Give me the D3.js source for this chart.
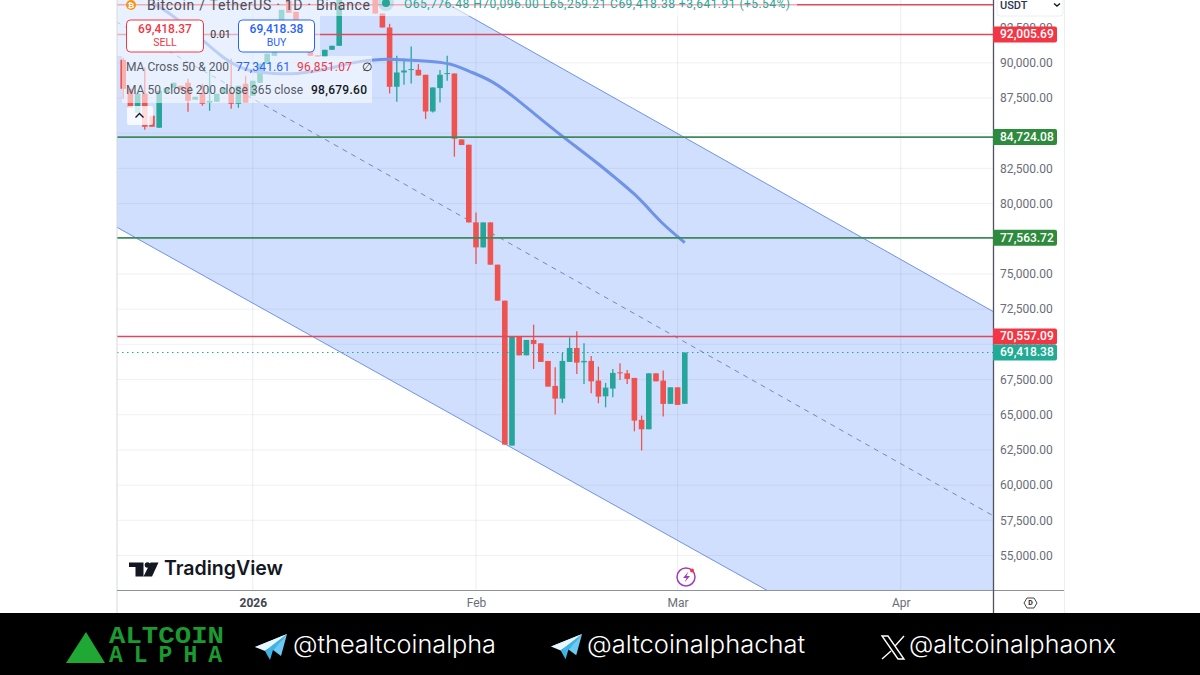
<!DOCTYPE html>
<meta charset="utf-8">
<style>
html, body { margin: 0; padding: 0; background: #fff; }
svg { display: block; }
text { font-family: Roboto, sans-serif; }
.price-axis text, .time-axis text { font-size: 12px; fill: #6a6d78; }
.price-axis path, .price-axis line, .time-axis path, .time-axis line { display: none; }
</style>
<body>
<script src="https://cdn.jsdelivr.net/npm/d3@7/dist/d3.min.js"></script>
<script>

// candles, one per day from 14 Dec 2025 to 2 Mar 2026
var dates = ["2025-12-14","2025-12-15","2025-12-16","2025-12-17","2025-12-18","2025-12-19","2025-12-20","2025-12-21","2025-12-22","2025-12-23",
  "2025-12-24","2025-12-25","2025-12-26","2025-12-27","2025-12-28","2025-12-29","2025-12-30","2025-12-31","2026-01-01","2026-01-02",
  "2026-01-03","2026-01-04","2026-01-05","2026-01-06","2026-01-07","2026-01-08","2026-01-09","2026-01-10","2026-01-11","2026-01-12",
  "2026-01-13","2026-01-14","2026-01-15","2026-01-16","2026-01-17","2026-01-18","2026-01-19","2026-01-20","2026-01-21","2026-01-22",
  "2026-01-23","2026-01-24","2026-01-25","2026-01-26","2026-01-27","2026-01-28","2026-01-29","2026-01-30","2026-01-31","2026-02-01",
  "2026-02-02","2026-02-03","2026-02-04","2026-02-05","2026-02-06","2026-02-07","2026-02-08","2026-02-09","2026-02-10","2026-02-11",
  "2026-02-12","2026-02-13","2026-02-14","2026-02-15","2026-02-16","2026-02-17","2026-02-18","2026-02-19","2026-02-20","2026-02-21",
  "2026-02-22","2026-02-23","2026-02-24","2026-02-25","2026-02-26","2026-02-27","2026-02-28","2026-03-01","2026-03-02"];
var opens = [90214,88155,86451,87800,86238,85386,87871,88226,88368,88581,
  87374,87871,87161,87232,87800,87871,87090,88510,87658,88581,
  89930,90498,91208,94403,93622,92628,90853,90535,90427,90924,
  91208,95113,96533,96000,95800,95400,93501,92507,88297,89312,
  89483,89504,89149,86543,88205,89199,89241,84555,84179,78662,
  76887,78662,75659,73103,62808,70547,69219,70313,70071,68822,
  67047,66145,68751,69745,68722,68822,67423,66308,66855,68012,
  67941,67615,64633,63965,67941,67423,65769,66947,65776];
var highs = [90356,88155,87800,89646,86238,88013,88226,88581,88368,88865,
  87587,88510,89433,87800,88226,90285,88368,89078,88723,89930,
  90640,91918,93764,94403,93622,92628,90853,90535,90924,91208,
  95113,96533,96533,96000,95800,95400,93501,92770,90498,90285,
  91158,89909,89149,88247,89483,90498,89241,84555,84179,79372,
  78662,78662,75659,73103,70547,70547,70313,71399,70071,68822,
  68367,69390,70497,70923,70071,69177,68417,67260,68254,68651,
  68183,67615,64938,67941,67941,68133,66947,66947,69418];
var lows = [87445,86806,86451,85244,85457,85386,87871,88226,88084,86522,
  87374,86948,86593,87232,87800,86735,86806,87161,87658,88581,
  89930,90498,91208,93551,92628,91208,90498,90448,90427,90924,
  91208,95113,96000,95800,95400,93501,92507,87821,87232,88439,
  88531,89099,86004,86472,87182,88723,83327,84158,78662,75709,
  76887,75659,73103,62879,62808,69219,69219,68254,68751,66997,
  65009,65840,68751,67899,67189,66521,65811,65527,66237,67473,
  67189,63823,62453,63965,67373,64867,65769,65698,65776];
var closes = [88155,86806,87800,85457,85457,88013,88226,88581,88084,87303,
  87587,87090,87303,87800,88226,87090,88368,87161,88723,89930,
  90640,90853,93764,93551,92628,91208,90498,90448,90924,91208,
  95113,96533,96000,95800,95400,93501,92507,88297,89312,89454,
  89554,89099,86543,88247,89149,89270,84605,84158,78662,76887,
  78662,75659,73103,62879,70547,69219,70313,70029,68751,66997,
  66145,68822,69745,68701,68822,67373,66287,66926,67970,67941,
  67544,64583,63965,67941,67373,65769,66947,65698,69418];

// moving average, read at a few dates along the line
var maDates = ["2025-12-18","2025-12-20","2025-12-23","2025-12-25","2025-12-28","2025-12-30","2026-01-01","2026-01-04","2026-01-07",
  "2026-01-11","2026-01-15","2026-01-19","2026-01-22","2026-01-27","2026-01-29","2026-01-31","2026-02-03","2026-02-06","2026-02-09",
  "2026-02-12","2026-02-15","2026-02-18","2026-02-21","2026-02-23","2026-02-25","2026-02-27","2026-03-02"];
var maValues = [94261,93693,92486,91634,90285,89717,89362,89220,89185,
  89504,90072,90285,90214,90072,89859,89400,88800,87700,86420,
  85173,84000,82830,81552,80700,79635,78499,77221];

// regression channel, two ends of each line
var channelDates = ["2025-12-13", "2026-04-14"];
var channelTop = [107470, 72280];
var channelMid = [92926, 57775];
var channelBottom = [78353, 43500];

// horizontal levels
var topLevel = 94119;
var redLevels = [92005.69, 70557.09];
var greenLevels = [84724.08, 77563.72];
var lastPrice = 69418.38;

var priceTicks = [92500, 90000, 87500, 85000, 82500, 80000, 77500, 75000, 72500, 70000, 67500, 65000, 62500, 60000, 57500, 55000];
var gridPrices = [90000, 87500, 85000, 82500, 80000, 77500, 75000, 72500, 70000, 67500, 65000, 62500, 60000, 57500, 55000];
var timeTicks = ["2026-01-01", "2026-02-01", "2026-03-01", "2026-04-01"];
var timeLabels = ["2026", "Feb", "Mar", "Apr"];

var width = 1200,
    height = 675,
    plotLeft = 117,
    plotRight = 993,
    plotBottom = 590,
    footerTop = 613;

var red = "#ef5350", green = "#26a69a";
var fmt = d3.format(",.2f");

var x = d3.scaleUtc()
    .domain([new Date("2026-02-01"), new Date("2026-03-01")])
    .range([476, 677.6]);
var y = d3.scaleLinear()
    .domain([55000, 90000])
    .range([555.5, 62.8]);

var svg = d3.select("body").append("svg")
    .attr("width", width)
    .attr("height", height)
    .attr("viewBox", "0 0 1200 675");

svg.append("defs").append("clipPath").attr("id", "plot")
  .append("rect")
    .attr("x", plotLeft).attr("y", 0)
    .attr("width", plotRight - plotLeft).attr("height", plotBottom);

svg.append("rect").attr("width", width).attr("height", height).attr("fill", "#fff");

var plot = svg.append("g").attr("clip-path", "url(#plot)");

// channel
var channelIdx = [0, 1];
var channelArea = d3.area()
    .x(function(i) { return x(new Date(channelDates[i])); })
    .y0(function(i) { return y(channelBottom[i]); })
    .y1(function(i) { return y(channelTop[i]); });
plot.append("path").datum(channelIdx)
    .attr("d", channelArea)
    .attr("fill", "#d0dffd");

function channelLine(values) {
  return d3.line()
      .x(function(i) { return x(new Date(channelDates[i])); })
      .y(function(i) { return y(values[i]); })(channelIdx);
}
plot.append("path").attr("d", channelLine(channelTop)).attr("fill", "none").attr("stroke", "#6f92ea").attr("stroke-width", 1);
plot.append("path").attr("d", channelLine(channelBottom)).attr("fill", "none").attr("stroke", "#6f92ea").attr("stroke-width", 1);
plot.append("path").attr("d", channelLine(channelMid)).attr("fill", "none").attr("stroke", "#7486c4").attr("stroke-width", 1).attr("stroke-dasharray", "5 5");

// grid
plot.selectAll(".hgrid").data(gridPrices).enter().append("line")
    .attr("class", "hgrid")
    .attr("x1", plotLeft).attr("x2", plotRight)
    .attr("y1", function(d) { return y(d); }).attr("y2", function(d) { return y(d); })
    .attr("stroke", "#8a94a8").attr("stroke-opacity", 0.13);
plot.selectAll(".vgrid").data(timeTicks).enter().append("line")
    .attr("class", "vgrid")
    .attr("x1", function(d) { return x(new Date(d)); }).attr("x2", function(d) { return x(new Date(d)); })
    .attr("y1", 0).attr("y2", plotBottom)
    .attr("stroke", "#8a94a8").attr("stroke-opacity", 0.17);

// candles
var candle = plot.selectAll(".candle").data(dates).enter().append("g").attr("class", "candle");
candle.append("line")
    .attr("x1", function(d) { return x(new Date(d)); })
    .attr("x2", function(d) { return x(new Date(d)); })
    .attr("y1", function(d, i) { return y(highs[i]); })
    .attr("y2", function(d, i) { return y(lows[i]); })
    .attr("stroke-width", 1.3)
    .attr("stroke", function(d, i) { return closes[i] >= opens[i] ? green : red; });
candle.append("rect")
    .attr("x", function(d) { return x(new Date(d)) - 2.8; })
    .attr("width", 5.6)
    .attr("y", function(d, i) { return y(Math.max(opens[i], closes[i])); })
    .attr("height", function(d, i) { return Math.max(1, Math.abs(y(opens[i]) - y(closes[i]))); })
    .attr("fill", function(d, i) { return closes[i] >= opens[i] ? green : red; });

// moving average
var maLine = d3.line()
    .x(function(d) { return x(new Date(d)); })
    .y(function(d, i) { return y(maValues[i]); })
    .curve(d3.curveBasis);
plot.append("path").datum(maDates)
    .attr("d", maLine)
    .attr("fill", "none")
    .attr("stroke", "#6e93e8")
    .attr("stroke-width", 3);

// levels
function hline(value, color, w, dash) {
  plot.append("line")
      .attr("x1", plotLeft).attr("x2", plotRight)
      .attr("y1", y(value)).attr("y2", y(value))
      .attr("stroke", color).attr("stroke-width", w)
      .attr("stroke-dasharray", dash || null);
}
hline(topLevel, "#e4485c", 1.4);
redLevels.forEach(function(d) { hline(d, "#dc4a5e", 1.4); });
greenLevels.forEach(function(d) { hline(d, "#3f8a5c", 1.8); });
hline(lastPrice, "#26a69a", 1, "1.5 3.5");

// legend backdrops
var overlay = svg.append("g");
overlay.append("rect").attr("x", plotLeft).attr("y", 0).attr("width", 680).attr("height", 16).attr("fill", "#fff").attr("fill-opacity", 0.55);
overlay.append("rect").attr("x", plotLeft).attr("y", 16).attr("width", 203).attr("height", 40).attr("fill", "#fff").attr("fill-opacity", 0.55);
overlay.append("rect").attr("x", 122).attr("y", 56).attr("width", 250).attr("height", 47).attr("fill", "#fff").attr("fill-opacity", 0.55);
overlay.append("rect").attr("x", 127).attr("y", 106).attr("width", 26).attr("height", 19).attr("rx", 2).attr("fill", "#fff").attr("fill-opacity", 0.8);
overlay.append("path").attr("d", "M135.5 117.5l4-4 4 4").attr("fill", "none").attr("stroke", "#131722").attr("stroke-width", 1.4);

function label(parent, str, px, py, size, color, opts) {
  opts = opts || {};
  return parent.append("text")
      .attr("x", px).attr("y", py)
      .attr("font-size", size)
      .attr("fill", color)
      .attr("font-weight", opts.weight || 400)
      .attr("text-anchor", opts.anchor || "start")
      .attr("dominant-baseline", "middle")
      .text(str);
}

// header
overlay.append("circle").attr("cx", 131).attr("cy", 5).attr("r", 5).attr("fill", "#f7931a");
label(overlay, "₿", 131, 5.5, 8, "#fff", {anchor: "middle", weight: 700});
label(overlay, "Bitcoin / TetherUS · 1D · Binance", 147, 6, 14, "#4a4e5a").attr("textLength", 223).attr("lengthAdjust", "spacing");
overlay.append("circle").attr("cx", 386).attr("cy", 3).attr("r", 8).attr("fill", "#26a69a").attr("fill-opacity", 0.2);
overlay.append("circle").attr("cx", 386).attr("cy", 3).attr("r", 4).attr("fill", "#26a69a");
label(overlay, "O65,776.48 H70,096.00 L65,259.21 C69,418.38 +3,641.91 (+5.54%)", 404, 5, 12, "#26a69a").attr("textLength", 386).attr("lengthAdjust", "spacing");

// sell and buy buttons
function tradeButton(bx, w, color, price, name) {
  overlay.append("rect").attr("x", bx).attr("y", 20).attr("width", w).attr("height", 32).attr("rx", 4)
      .attr("fill", "#fff").attr("stroke", color).attr("stroke-width", 1);
  label(overlay, price, bx + w / 2, 30, 12, color, {anchor: "middle", weight: 500});
  label(overlay, name, bx + w / 2, 43, 10.5, color, {anchor: "middle"});
}
tradeButton(126.5, 77, "#f23645", "69,418.37", "SELL");
tradeButton(238.5, 76, "#2962ff", "69,418.38", "BUY");
label(overlay, "0.01", 220.5, 35, 10.5, "#333", {anchor: "middle"});

// indicator legend
label(overlay, "MA Cross 50 & 200", 126, 67.5, 12, "#555a66").attr("textLength", 103).attr("lengthAdjust", "spacing");
label(overlay, "77,341.61", 236, 67.5, 12, "#2962ff").attr("textLength", 54).attr("lengthAdjust", "spacing");
label(overlay, "96,851.07", 297, 67.5, 12, "#f23645").attr("textLength", 55).attr("lengthAdjust", "spacing");
label(overlay, "∅", 362, 67.5, 12, "#222");
label(overlay, "MA 50 close 200 close 365 close", 126, 91, 12, "#555a66").attr("textLength", 177).attr("lengthAdjust", "spacing");
label(overlay, "98,679.60", 311, 91, 12, "#131722", {weight: 500}).attr("textLength", 56).attr("lengthAdjust", "spacing");

// TradingView mark
var tv = svg.append("g").attr("fill", "#131722");
tv.append("path").attr("d", "M129 562.5h14.5v14h-8v-9.5H129z");
tv.append("circle").attr("cx", 147.5).attr("cy", 565).attr("r", 2.8);
tv.append("path").attr("d", "M150.5 562.5h8l-6.5 14h-8.5z");
label(tv, "TradingView", 164, 570, 20, "#131722", {weight: 600}).style("font-family", "Inter").attr("textLength", 119).attr("lengthAdjust", "spacingAndGlyphs");

// lightning badge
var bolt = svg.append("g");
bolt.append("circle").attr("cx", 686).attr("cy", 577).attr("r", 9).attr("fill", "none").attr("stroke", "#a33bc2").attr("stroke-width", 1.5);
bolt.append("path").attr("d", "M688.5 571.5l-5.5 6.5h3.5l-2 4.5 5.5-6.5h-3.5z").attr("fill", "#a33bc2");
bolt.append("circle").attr("cx", 692).attr("cy", 570.5).attr("r", 2).attr("fill", "#f23645");

// frame
svg.append("line").attr("x1", plotLeft).attr("x2", plotLeft).attr("y1", 0).attr("y2", footerTop).attr("stroke", "#d6d8de");
svg.append("line").attr("x1", plotLeft).attr("x2", 1064).attr("y1", plotBottom + 0.5).attr("y2", plotBottom + 0.5).attr("stroke", "#8f929b");
svg.append("line").attr("x1", 1064.5).attr("x2", 1064.5).attr("y1", 0).attr("y2", footerTop).attr("stroke", "#eceef2");

// axes
svg.append("g")
    .attr("class", "price-axis")
    .attr("transform", "translate(" + (plotRight + 1) + ",0)")
    .call(d3.axisRight(y).tickValues(priceTicks).tickFormat(d3.format(",.2f")).tickSize(0).tickPadding(6));
svg.append("g")
    .attr("class", "time-axis")
    .attr("transform", "translate(0," + (plotBottom + 8) + ")")
    .call(d3.axisBottom(x)
      .tickValues(timeTicks.map(function(d) { return new Date(d); }))
      .tickFormat(function(d, i) { return timeLabels[i]; })
      .tickSize(0).tickPadding(0))
  .selectAll("text")
    .attr("font-weight", function(d, i) { return i === 0 ? 700 : 400; })
    .style("fill", function(d, i) { return i === 0 ? "#434651" : "#6a6d78"; });

svg.append("line").attr("x1", plotRight + 0.5).attr("x2", plotRight + 0.5).attr("y1", 0).attr("y2", footerTop).attr("stroke", "#50535e").attr("stroke-width", 1.3);

// price tags
function tag(value, color) {
  var g = svg.append("g").attr("transform", "translate(" + plotRight + "," + y(value) + ")");
  g.append("path").attr("d", "M0 -8h62a2 2 0 0 1 2 2v12a2 2 0 0 1 -2 2h-62z").attr("fill", color);
  label(g, fmt(value), 7, 0.5, 12, "#fff", {weight: 500});
}
redLevels.forEach(function(d) { tag(d, "#f23645"); });
greenLevels.forEach(function(d) { tag(d, "#2e8b3d"); });
tag(lastPrice, "#22ab94");

// currency box and settings icon
svg.append("rect").attr("x", 997).attr("y", -4).attr("width", 66).attr("height", 20).attr("rx", 3).attr("fill", "#fff").attr("stroke", "#eceef2");
label(svg, "USDT", 1000, 6, 11, "#2a3550", {weight: 500});
svg.append("path").attr("d", "M1054 3.5l3 2.5 3-2.5").attr("fill", "none").attr("stroke", "#131722").attr("stroke-width", 1.4);
svg.append("path").attr("d", "M1027 598h7l3 5-3 5h-7l-3-5z").attr("fill", "none").attr("stroke", "#444").attr("stroke-width", 1);
label(svg, "D", 1030.5, 603.5, 7, "#222", {anchor: "middle", weight: 700});

// footer banner
var footer = svg.append("g");
footer.append("rect").attr("x", 0).attr("y", footerTop).attr("width", width).attr("height", height - footerTop).attr("fill", "#000");
footer.append("path").attr("d", "M66 663L86 632L105 663Z").attr("fill", "#1fa834");

function mono(str, py, len, adjust) {
  footer.append("text")
      .attr("x", 109).attr("y", py)
      .attr("font-size", 23).attr("font-weight", 700)
      .attr("dominant-baseline", "middle")
      .attr("textLength", len).attr("lengthAdjust", adjust)
      .attr("fill", "#1b9a30")
      .style("font-family", "'Liberation Mono', monospace")
      .text(str);
}
mono("ALTCOIN", 637, 115, "spacingAndGlyphs");
mono("ALPHA", 656, 113, "spacing");

function plane(px, py, s) {
  var g = footer.append("g").attr("transform", "translate(" + px + "," + py + ") scale(" + s + ")");
  g.append("path").attr("d", "M0 13L32 0L18 16Z").attr("fill", "#7fd3f7");
  g.append("path").attr("d", "M0 13L10 17L32 0Z").attr("fill", "#e8f7fe");
  g.append("path").attr("d", "M10 17L15 26L18 16L32 0Z").attr("fill", "#3fb2e6");
  g.append("path").attr("d", "M18 16L26 22L32 0Z").attr("fill", "#6cc9f2");
}
plane(255, 634, 1);
plane(551, 634, 0.97);

function handle(str, px, len) {
  footer.append("text")
      .attr("x", px).attr("y", 646)
      .attr("font-size", 24).attr("font-weight", 300)
      .attr("dominant-baseline", "middle")
      .attr("textLength", len).attr("lengthAdjust", "spacingAndGlyphs")
      .attr("fill", "#fff")
      .style("font-family", "Inter, sans-serif")
      .text(str);
}
handle("@thealtcoinalpha", 293, 203);
handle("@altcoinalphachat", 587, 218);
handle("@altcoinalphaonx", 909, 207);

// X mark
footer.append("path").attr("d", "M882 636h6l16 23h-6zM904 636l-9 10M891 651l-9 8").attr("fill", "none").attr("stroke", "#fff").attr("stroke-width", 1.4);

</script>
</body>
